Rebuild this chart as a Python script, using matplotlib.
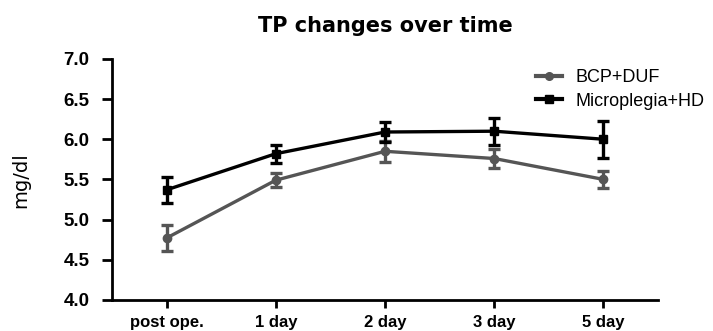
import matplotlib
matplotlib.use("Agg")
import matplotlib.pyplot as plt
from matplotlib.lines import Line2D
import numpy as np

plt.rcParams['font.family'] = ['Liberation Sans', 'DejaVu Sans']

categories = ["post ope.", "1 day", "2 day", "3 day", "5 day"]
bcp_mean = [4.77, 5.49, 5.85, 5.76, 5.50]
bcp_err = [0.16, 0.09, 0.13, 0.12, 0.11]
micro_mean = [5.37, 5.82, 6.09, 6.10, 6.00]
micro_err = [0.16, 0.11, 0.12, 0.17, 0.23]
yticks = [4.0, 4.5, 5.0, 5.5, 6.0, 6.5, 7.0]
series_labels = ['BCP+DUF', 'Microplegia+HD']

gray = '#555555'
fig = plt.figure(figsize=(7.13, 3.31), dpi=100)
ax = fig.add_axes([0.157, 0.094, 0.766, 0.728])

x = np.arange(len(categories))
ax.errorbar(x, bcp_mean, yerr=bcp_err, color=gray, marker='o', markersize=6,
            linewidth=2.4, elinewidth=2.4, capsize=4, capthick=2.4)
ax.errorbar(x, micro_mean, yerr=micro_err, color='black', marker='s', markersize=6,
            linewidth=2.4, elinewidth=2.4, capsize=4, capthick=2.4)

ax.set_xlim(-0.5, 4.5)
ax.set_ylim(4.0, 7.0)
ax.set_yticks(yticks)
ax.set_yticklabels([f"{v:.1f}" for v in yticks], fontweight='bold', fontsize=13.5)
ax.set_xticks(x)
ax.set_xticklabels(categories, fontweight='bold', fontsize=12)
for s in ['top', 'right']:
    ax.spines[s].set_visible(False)
for s in ['left', 'bottom']:
    ax.spines[s].set_linewidth(2)
ax.tick_params(axis='y', width=2, length=7, direction='out', pad=9)
ax.tick_params(axis='x', width=2, length=6, direction='out', pad=5)

fig.text(21/713, 1-180/331, 'mg/dl', rotation=90, ha='center', va='center',
         fontsize=14, family=['DejaVu Sans'])
fig.text(385/713, 1-32/331, 'TP changes over time', ha='center', va='baseline',
         fontsize=15, fontweight='bold', family=['DejaVu Sans'])

handles = [Line2D([], [], color=gray, marker='o', markersize=5.5, linewidth=3),
           Line2D([], [], color='black', marker='s', markersize=5.5, linewidth=3)]
fig.legend(handles, series_labels, loc='upper left', bbox_to_anchor=(0.742, 0.812),
           frameon=False, fontsize=13, handlelength=1.45, handletextpad=0.75,
           labelspacing=0.35, borderaxespad=0)

fig.savefig('out.png', dpi=100)
